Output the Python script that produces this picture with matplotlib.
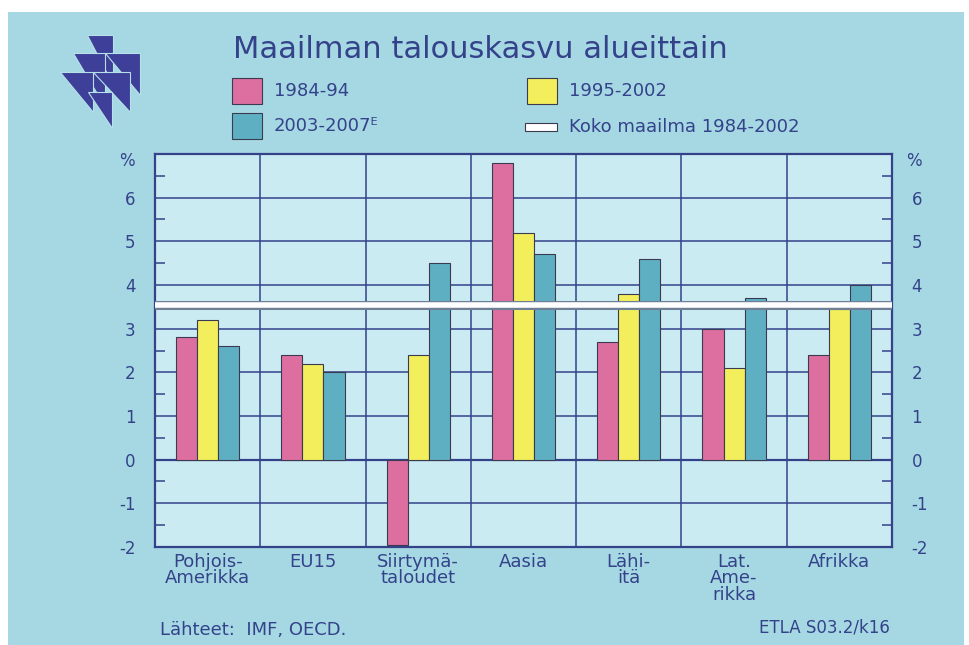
import numpy as np
import matplotlib
matplotlib.use("Agg")
import matplotlib.pyplot as plt
from matplotlib.patches import Rectangle, Polygon
import matplotlib.patheffects as pe

plt.rcParams["axes.unicode_minus"] = False

# Data (annual growth, %)
regions = ["Pohjois-\nAmerikka", "EU15", "Siirtymä-\ntaloudet", "Aasia",
           "Lähi-\nitä", "Lat.\nAme-\nrikka", "Afrikka"]
g8494 = [2.8, 2.4, -1.95, 6.8, 2.7, 3.0, 2.4]
g9502 = [3.2, 2.2, 2.4, 5.2, 3.8, 2.1, 3.45]
g0307 = [2.6, 2.0, 4.5, 4.7, 4.6, 3.7, 4.0]
world = 3.55
series_labels = ["1984-94", "1995-2002", "2003-2007ᴱ"]

navy = "#34428a"
bg = "#a6d8e3"
plotbg = "#cbebf3"
colors = ["#dc6fa0", "#f2ee5c", "#5fafc3"]
fs = 13

fig = plt.figure(figsize=(9.69, 6.45), dpi=100, facecolor="white")
fig.patches.append(Rectangle((8/969, 0), 956/969, 1 - 12/645, transform=fig.transFigure,
                             facecolor=bg, edgecolor="none", zorder=-10))

# logo: right-angled triangles pointing down-right
tri = [(140, 45, 80, 150), (100, 100, 95, 160), (195, 100, 105, 125),
       (60, 155, 100, 120), (160, 155, 110, 120), (145, 215, 70, 110)]
for zx, zy, w, h in tri:
    x0, y0 = 40 + zx/3, 20 + zy/3
    pts = [(x0/969, 1 - y0/645), ((x0 + w/3)/969, 1 - y0/645),
           ((x0 + w/3)/969, 1 - (y0 + h/3)/645)]
    fig.patches.append(Polygon(pts, closed=True, transform=fig.transFigure,
                               facecolor="#3d3f98", edgecolor="#b8e0ea", lw=0.8))

ax = fig.add_axes([155/969, 1 - 547/645, 737/969, 393/645])
ax.set_facecolor(plotbg)
x = np.arange(len(regions))
w = 0.2
for i, (vals, c) in enumerate(zip([g8494, g9502, g0307], colors)):
    ax.bar(x + (i - 1)*w, vals, w, color=c, edgecolor="#3a3a50", lw=0.8, zorder=3)

ax.axhline(world, color="white", lw=4, zorder=4,
           path_effects=[pe.Stroke(linewidth=6.5, foreground="#6f8096"), pe.Normal()])
ax.axhline(0, color=navy, lw=1.6, zorder=2)

ax.set_xlim(-0.5, len(regions) - 0.5)
ax.set_ylim(-2, 7)
ax.set_yticks(range(-2, 7))
ax.set_yticks(np.arange(-1.5, 7, 1), minor=True)
for v in range(-1, 7):
    ax.axhline(v, color=navy, lw=1.1, zorder=1)
for b in np.arange(0.5, len(regions) - 1, 1):
    ax.axvline(b, color=navy, lw=1.1, zorder=1)
ax.set_xticks(x)
ax.set_xticklabels(regions, fontsize=fs, color=navy, linespacing=0.9)
ax.tick_params(axis="x", length=0, pad=4)
ax.tick_params(axis="y", which="both", direction="in", right=True, labelright=True,
               colors=navy, labelsize=12, pad=14)
ax.tick_params(axis="y", which="minor", length=7, width=1.1)
ax.tick_params(axis="y", which="major", length=0)
for s in ax.spines.values():
    s.set_color(navy)
    s.set_linewidth(1.6)
ax.text(-0.038, 6.85, "%", transform=ax.get_yaxis_transform(), ha="center", va="center",
        fontsize=12, color=navy)
ax.text(1.03, 6.85, "%", transform=ax.get_yaxis_transform(), ha="center", va="center",
        fontsize=12, color=navy)

fig.text(233/969, 1 - 50/645, "Maailman talouskasvu alueittain", fontsize=22,
         color=navy, va="center", ha="left")

# legend
leg = [(232, 78, colors[0], series_labels[0]), (527, 78, colors[1], series_labels[1]),
       (232, 113, colors[2], series_labels[2])]
for lx, ly, c, lab in leg:
    fig.patches.append(Rectangle((lx/969, 1 - (ly + 26)/645), 30/969, 26/645,
                                 transform=fig.transFigure, facecolor=c,
                                 edgecolor="#3a3a50", lw=0.8))
    fig.text((lx + 42)/969, 1 - (ly + 13)/645, lab, fontsize=fs, color=navy,
             va="center", ha="left")
fig.patches.append(Rectangle((525/969, 1 - 131/645), 32/969, 8/645, transform=fig.transFigure,
                             facecolor="white", edgecolor="#3a3a50", lw=0.8))
fig.text(569/969, 1 - 127/645, "Koko maailma 1984-2002", fontsize=fs, color=navy,
         va="center", ha="left")

fig.text(160/969, 1 - 630/645, "Lähteet:  IMF, OECD.", fontsize=fs, color=navy,
         va="center", ha="left")
fig.text(890/969, 1 - 628/645, "ETLA S03.2/k16", fontsize=12, color=navy,
         va="center", ha="right")

fig.savefig("out.png", dpi=100, facecolor=fig.get_facecolor())
